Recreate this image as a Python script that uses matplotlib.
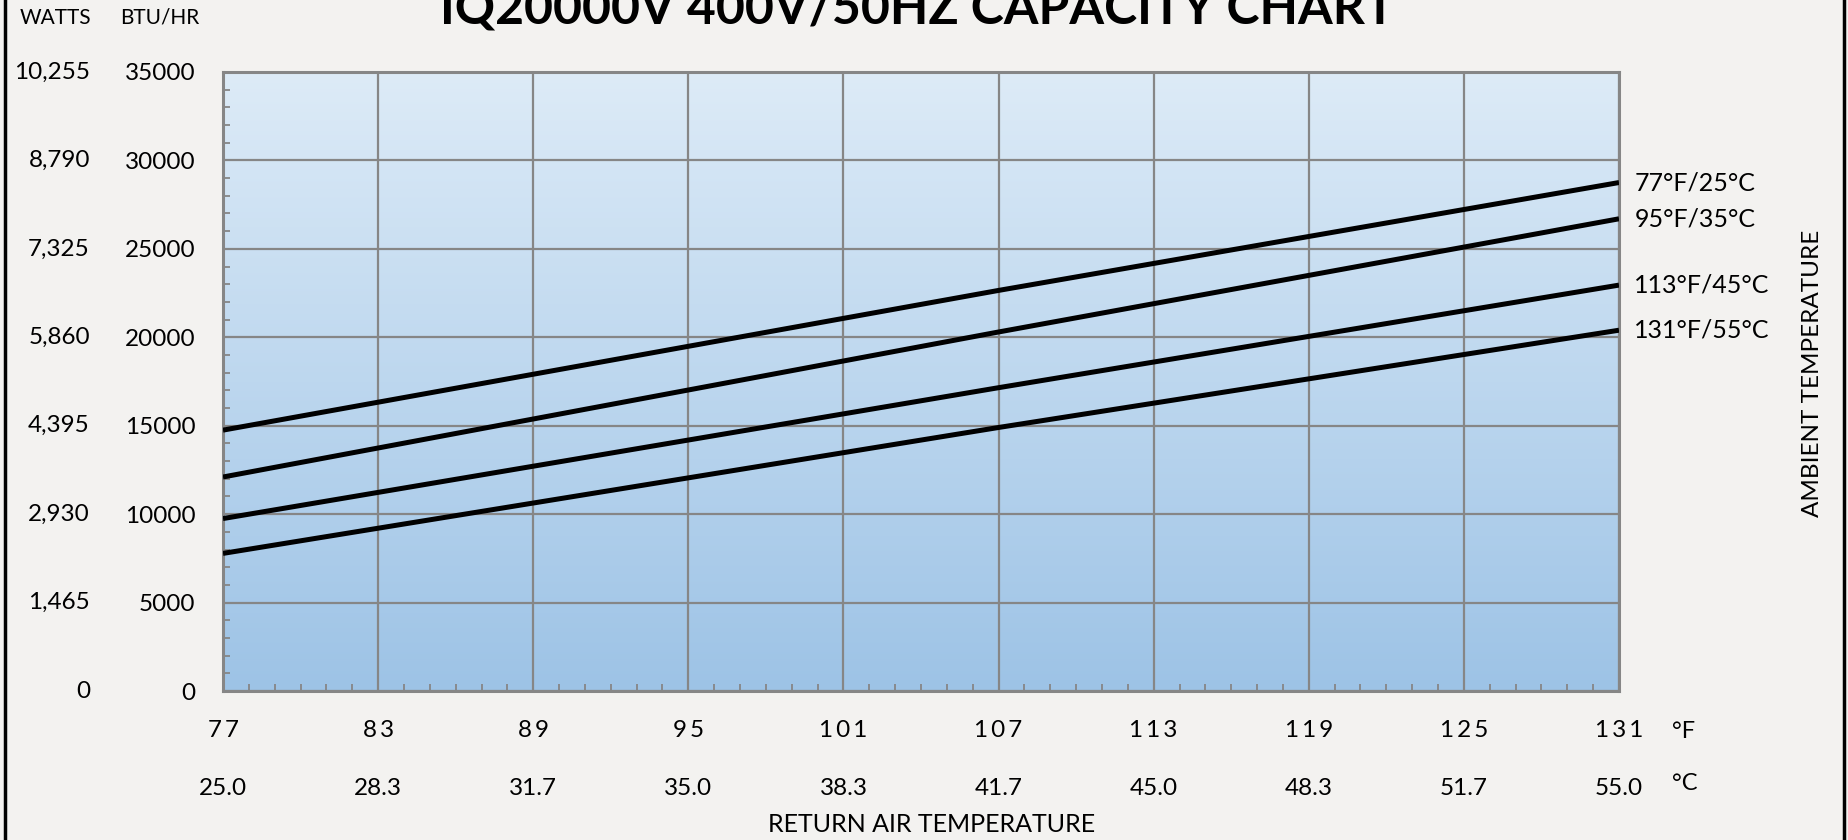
import numpy as np
import matplotlib
matplotlib.use('Agg')
from matplotlib import pyplot as plt
from matplotlib.colors import LinearSegmentedColormap
from matplotlib.lines import Line2D

# return air temperature (F) and capacity in BTU/HR for each ambient temperature
return_f = [77, 107, 131]
cap_77f = [14750, 22650, 28750]
cap_95f = [12100, 20300, 26700]
cap_113f = [9750, 17150, 22950]
cap_131f = [7780, 14900, 20400]
series_names = ['77°F/25°C', '95°F/35°C', '113°F/45°C', '131°F/55°C']

f_ticks = [77, 83, 89, 95, 101, 107, 113, 119, 125, 131]
c_labels = ['25.0', '28.3', '31.7', '35.0', '38.3', '41.7', '45.0', '48.3', '51.7', '55.0']
btu_ticks = [0, 5000, 10000, 15000, 20000, 25000, 30000, 35000]
watt_labels = ['0', '1,465', '2,930', '4,395', '5,860', '7,325', '8,790', '10,255']

plt.rcParams['font.family'] = ['Lato', 'DejaVu Sans']
grid_c = '#868686'

fig = plt.figure(figsize=(18.49, 8.40), dpi=100, facecolor='#f3f2f0')
ax = fig.add_axes([223 / 1849, 1 - 691 / 840, 1396 / 1849, 619 / 840])

# blue vertical gradient background
cmap = LinearSegmentedColormap.from_list('bg', ['#9dc3e6', '#ddebf7'])
grad = np.linspace(0, 1, 256).reshape(-1, 1)
ax.imshow(grad, extent=[77, 131, 0, 35000], origin='lower', aspect='auto', cmap=cmap, zorder=0)

for vals, name in zip([cap_77f, cap_95f, cap_113f, cap_131f], series_names):
    ax.plot(return_f, vals, color='black', lw=3.6, solid_capstyle='butt', zorder=3)
    ax.annotate(name, xy=(return_f[-1], vals[-1]), xytext=(11, 0), textcoords='offset points',
                va='center', ha='left', fontsize=18, annotation_clip=False)

ax.set_xlim(77, 131)
ax.set_ylim(0, 35000)
ax.set_xticks(f_ticks)
# excel draws these digits a bit spread out
ax.set_xticklabels(['\u2009'.join(str(v)) for v in f_ticks], fontsize=17.5)
ax.set_yticks(btu_ticks)
ax.set_yticklabels([str(v) for v in btu_ticks], fontsize=17.5)
ax.set_xticks(np.arange(77, 132, 1), minor=True)
ax.set_yticks(np.arange(0, 35001, 1000), minor=True)
ax.tick_params(which='major', length=0, pad=20)
ax.tick_params(axis='x', which='major', pad=21)
ax.tick_params(which='minor', direction='in', length=5, width=1.3, color=grid_c)
ax.grid(True, which='major', color=grid_c, lw=1.6, zorder=1)
for s in ax.spines.values():
    s.set_color(grid_c)
    s.set_linewidth(2.2)

# watts scale and the celsius row
ytr = ax.get_yaxis_transform()
for v, lab in zip(btu_ticks, watt_labels):
    ax.text(-0.0953, v, lab, transform=ytr, ha='right', va='center', fontsize=17.5)
xtr = ax.get_xaxis_transform()
for v, lab in zip(f_ticks, c_labels):
    ax.text(v, -0.157, lab, transform=xtr, ha='center', va='center', fontsize=17.5)

fig.text(1672 / 1849, 1 - 731 / 840, '°F', ha='left', va='center', fontsize=17)
fig.text(1672 / 1849, 1 - 783 / 840, '°C', ha='left', va='center', fontsize=17)
fig.text(55 / 1849, 1 - 18 / 840, 'WATTS', ha='center', va='center', fontsize=15)
fig.text(160 / 1849, 1 - 18 / 840, 'BTU/HR', ha='center', va='center', fontsize=15)
fig.text(932 / 1849, 1 - 825 / 840, 'RETURN AIR TEMPERATURE', ha='center', va='center', fontsize=18)
fig.text(1813 / 1849, 1 - 373 / 840, 'AMBIENT TEMPERATURE', rotation=90, ha='center', va='center', fontsize=17.5)
fig.text(917 / 1849, 1 - 24 / 840, 'IQ20000V 400V/50HZ CAPACITY CHART', ha='center', va='baseline',
         fontsize=36, fontweight='bold')

# outer frame sides
fig.add_artist(Line2D([5.5 / 1849, 5.5 / 1849], [0, 1], color='black', lw=2.5, transform=fig.transFigure))
fig.add_artist(Line2D([1844 / 1849, 1844 / 1849], [0, 1], color='black', lw=2.5, transform=fig.transFigure))

fig.savefig('out.png', dpi=100, facecolor=fig.get_facecolor())
